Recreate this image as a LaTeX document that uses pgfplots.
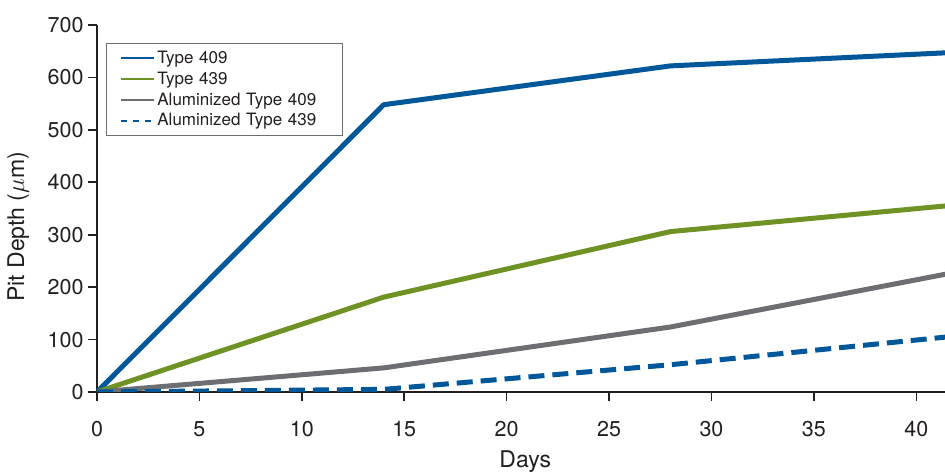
\documentclass[border=0pt]{standalone}
\usepackage{pgfplots}
\pgfplotsset{compat=1.18}
\usepackage{fontspec}
\setmainfont{TeX Gyre Heros}
\definecolor{cblue}{RGB}{0,88,154}
\definecolor{cgreen}{RGB}{110,147,36}
\definecolor{cgray}{RGB}{109,110,113}
\definecolor{ctext}{RGB}{35,31,32}
\begin{document}
\begin{tikzpicture}
\begin{axis}[
  at={(0,0)}, anchor=origin,
  scale only axis, width=848pt, height=367pt,
  xmin=0, xmax=41.4, ymin=0, ymax=700,
  axis x line*=bottom, axis y line*=left,
  axis line style={ctext, line width=1.6pt},
  xtick={0,5,...,40}, ytick={0,100,...,700},
  tick style={ctext, line width=1.6pt},
  tick align=outside, major tick length=9pt,
  /pgf/number format/assume math mode=true,
  ticklabel style={font=\fontsize{21.5}{25}\selectfont, text=ctext},
  xticklabel style={yshift=-17pt},
  yticklabel style={xshift=-1pt},
  xlabel={Days}, ylabel={Pit Depth ($\mu$m)},
  label style={font=\fontsize{23}{27}\selectfont, text=ctext},
  xlabel style={at={(axis description cs:0.505,-0.19)}, anchor=center},
  ylabel style={at={(axis description cs:-0.093,0.45)}, anchor=center},
  clip=true,
  legend style={at={(axis description cs:0.0106,0.951)}, anchor=north west,
    draw=cgray, line width=0.8pt, font=\fontsize{17}{20}\selectfont, text=ctext,
    row sep=3pt, inner xsep=14pt, inner ysep=5.5pt,
    nodes={text width=169pt},
    /tikz/every even column/.append style={column sep=3pt}},
  legend cell align=left,
  legend image code/.code={\draw[#1] (0pt,0pt) -- (33pt,0pt);},
]
\addplot[cblue, line width=5pt, line join=round, forget plot] coordinates {(0,0) (14,548) (28,622) (42,648)};
\addplot[cgreen, line width=5pt, line join=round, forget plot] coordinates {(0,0) (14,181) (28,306) (42,357)};
\addplot[cgray, line width=5pt, line join=round, forget plot] coordinates {(0,0) (14,46) (28,124) (42,229)};
\addplot[cblue, line width=5pt, dash pattern=on 16pt off 8pt, forget plot] coordinates {(0,0) (14,5) (28,52) (42,107)};
\addlegendimage{cblue, line width=2pt}
\addlegendentry{Type 409}
\addlegendimage{cgreen, line width=2pt}
\addlegendentry{Type 439}
\addlegendimage{cgray, line width=2pt}
\addlegendentry{Aluminized Type 409}
\addlegendimage{cblue, line width=2pt, dash pattern=on 6pt off 6pt}
\addlegendentry{Aluminized Type 439}
\end{axis}
\pgfresetboundingbox
\path[use as bounding box] (-97pt,-84pt) rectangle (848pt,392pt);
\end{tikzpicture}
\end{document}
